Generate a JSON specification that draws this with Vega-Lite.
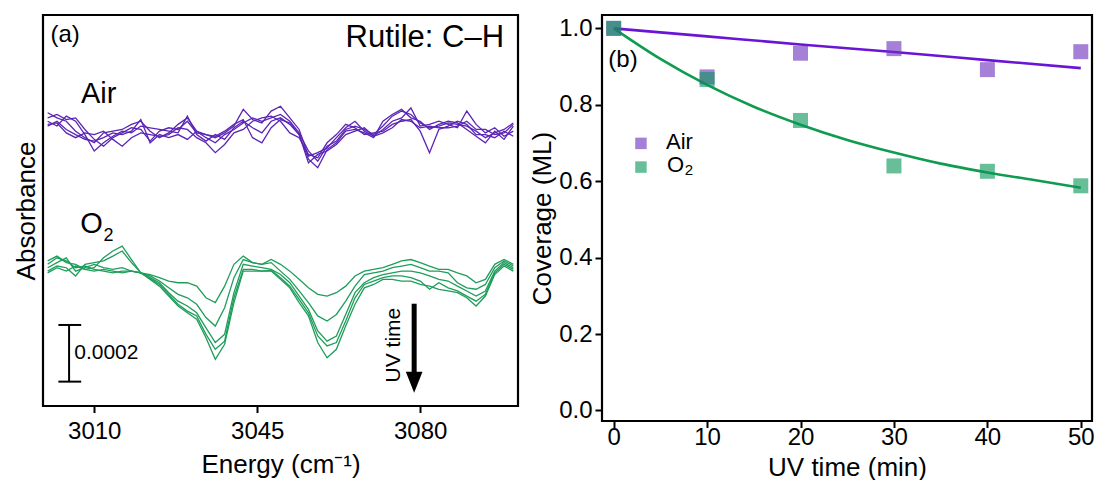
{
  "$schema": "https://vega.github.io/schema/vega-lite/v6.json",
  "padding": {"left": 12, "top": 13, "right": 4, "bottom": 0},
  "config": {
    "font": "Liberation Sans",
    "view": {"stroke": "black", "strokeWidth": 2.2},
    "axis": {"grid": false, "domain": false, "tickColor": "black", "tickWidth": 2, "labelColor": "black", "titleColor": "black", "titleFontWeight": "normal", "labelFlush": false, "labelOverlap": false}
  },
  "spacing": 84,
  "bounds": "flush",
  "resolve": {"scale": {"color": "independent", "stroke": "independent"}, "legend": {"color": "independent", "stroke": "independent"}},
  "hconcat": [
    {
      "width": 475,
      "height": 391,
      "encoding": {
        "x": {"field": "energy", "type": "quantitative", "scale": {"domain": [2999, 3101], "nice": false, "zero": false},
          "axis": {"values": [3010, 3045, 3080], "format": "d", "title": "Energy (cm⁻¹)", "titleFontSize": 26, "labelFontSize": 24, "tickSize": 6.5, "labelPadding": 7, "titlePadding": 8}},
        "y": {"field": "abs", "type": "quantitative", "scale": {"domain": [0, 13.8], "nice": false, "zero": false},
          "axis": {"title": "Absorbance", "titleFontSize": 26, "ticks": false, "labels": false, "titlePadding": 3.5}}
      },
      "layer": [
        {
          "data": {"values": [
            {"energy": 3000, "a1": 10.35, "a2": 10.17, "a3": 10.05, "a4": 9.94, "a5": 9.88, "o1": 5.00, "o2": 5.12, "o3": 4.88, "o4": 4.76, "o5": 4.70},
            {"energy": 3002, "a1": 10.17, "a2": 10.29, "a3": 9.88, "a4": 9.99, "a5": 10.05, "o1": 5.23, "o2": 5.29, "o3": 5.06, "o4": 4.94, "o5": 4.88},
            {"energy": 3004, "a1": 10.05, "a2": 10.11, "a3": 10.23, "a4": 9.64, "a5": 9.76, "o1": 5.12, "o2": 5.06, "o3": 5.23, "o4": 4.88, "o5": 4.76},
            {"energy": 3006, "a1": 9.70, "a2": 10.17, "a3": 10.05, "a4": 9.47, "a5": 9.58, "o1": 4.88, "o2": 5.00, "o3": 4.76, "o4": 4.59, "o5": 4.94},
            {"energy": 3008, "a1": 9.47, "a2": 9.76, "a3": 9.58, "a4": 9.64, "a5": 9.41, "o1": 4.94, "o2": 4.82, "o3": 4.88, "o4": 5.00, "o5": 4.82},
            {"energy": 3010, "a1": 9.29, "a2": 9.41, "a3": 9.00, "a4": 9.58, "a5": 9.35, "o1": 4.82, "o2": 4.76, "o3": 5.00, "o4": 5.06, "o5": 4.88},
            {"energy": 3012, "a1": 9.64, "a2": 9.17, "a3": 9.29, "a4": 9.70, "a5": 9.47, "o1": 4.76, "o2": 4.82, "o3": 4.88, "o4": 5.12, "o5": 5.23},
            {"energy": 3014, "a1": 9.70, "a2": 9.47, "a3": 9.52, "a4": 9.41, "a5": 9.64, "o1": 4.70, "o2": 4.76, "o3": 4.82, "o4": 5.29, "o5": 5.47},
            {"energy": 3016, "a1": 9.76, "a2": 9.64, "a3": 9.70, "a4": 9.17, "a5": 9.58, "o1": 4.76, "o2": 4.70, "o3": 4.88, "o4": 5.47, "o5": 5.64},
            {"energy": 3018, "a1": 9.94, "a2": 9.82, "a3": 9.64, "a4": 9.47, "a5": 9.70, "o1": 4.76, "o2": 4.76, "o3": 4.76, "o4": 5.06, "o5": 5.17},
            {"energy": 3020, "a1": 10.05, "a2": 9.76, "a3": 9.88, "a4": 9.64, "a5": 10.11, "o1": 4.70, "o2": 4.70, "o3": 4.70, "o4": 4.70, "o5": 4.70},
            {"energy": 3022, "a1": 9.70, "a2": 9.35, "a3": 9.82, "a4": 9.58, "a5": 9.29, "o1": 4.64, "o2": 4.59, "o3": 4.53, "o4": 4.50, "o5": 4.47},
            {"energy": 3024, "a1": 9.47, "a2": 9.70, "a3": 9.76, "a4": 9.52, "a5": 9.58, "o1": 4.53, "o2": 4.41, "o3": 4.35, "o4": 4.29, "o5": 4.23},
            {"energy": 3026, "a1": 9.64, "a2": 9.82, "a3": 9.70, "a4": 9.58, "a5": 9.47, "o1": 4.41, "o2": 4.17, "o3": 4.00, "o4": 3.94, "o5": 3.88},
            {"energy": 3028, "a1": 9.94, "a2": 9.76, "a3": 9.64, "a4": 9.82, "a5": 9.58, "o1": 4.35, "o2": 3.94, "o3": 3.70, "o4": 3.59, "o5": 3.53},
            {"energy": 3030, "a1": 10.17, "a2": 10.05, "a3": 10.23, "a4": 9.76, "a5": 9.41, "o1": 4.35, "o2": 3.82, "o3": 3.53, "o4": 3.35, "o5": 3.29},
            {"energy": 3032, "a1": 9.70, "a2": 9.64, "a3": 9.58, "a4": 9.47, "a5": 9.70, "o1": 4.23, "o2": 3.59, "o3": 3.29, "o4": 3.18, "o5": 3.06},
            {"energy": 3034, "a1": 9.47, "a2": 9.58, "a3": 9.35, "a4": 9.29, "a5": 9.58, "o1": 3.82, "o2": 3.12, "o3": 2.76, "o4": 2.53, "o5": 2.41},
            {"energy": 3036, "a1": 9.29, "a2": 9.47, "a3": 9.58, "a4": 8.94, "a5": 9.52, "o1": 3.65, "o2": 2.82, "o3": 2.24, "o4": 2.00, "o5": 1.65},
            {"energy": 3038, "a1": 9.58, "a2": 9.64, "a3": 9.41, "a4": 9.23, "a5": 9.70, "o1": 4.23, "o2": 3.47, "o3": 2.53, "o4": 2.29, "o5": 2.18},
            {"energy": 3040, "a1": 9.76, "a2": 9.88, "a3": 9.82, "a4": 9.64, "a5": 9.94, "o1": 5.00, "o2": 4.53, "o3": 4.00, "o4": 3.82, "o5": 3.65},
            {"energy": 3042, "a1": 9.99, "a2": 10.47, "a3": 10.05, "a4": 9.76, "a5": 10.11, "o1": 5.29, "o2": 5.17, "o3": 5.00, "o4": 4.82, "o5": 4.76},
            {"energy": 3044, "a1": 10.17, "a2": 10.11, "a3": 9.82, "a4": 10.05, "a5": 9.47, "o1": 5.06, "o2": 5.06, "o3": 4.94, "o4": 4.82, "o5": 4.76},
            {"energy": 3046, "a1": 10.05, "a2": 9.99, "a3": 9.64, "a4": 10.17, "a5": 9.29, "o1": 5.00, "o2": 5.00, "o3": 4.88, "o4": 4.76, "o5": 4.76},
            {"energy": 3048, "a1": 10.17, "a2": 10.41, "a3": 10.05, "a4": 10.23, "a5": 9.82, "o1": 5.17, "o2": 5.06, "o3": 4.82, "o4": 4.79, "o5": 4.76},
            {"energy": 3050, "a1": 10.29, "a2": 10.58, "a3": 10.17, "a4": 10.05, "a5": 10.11, "o1": 5.00, "o2": 4.76, "o3": 4.64, "o4": 4.53, "o5": 4.47},
            {"energy": 3052, "a1": 10.05, "a2": 10.17, "a3": 9.94, "a4": 9.64, "a5": 9.99, "o1": 4.76, "o2": 4.47, "o3": 4.35, "o4": 4.23, "o5": 4.17},
            {"energy": 3054, "a1": 9.64, "a2": 9.76, "a3": 9.58, "a4": 9.47, "a5": 9.58, "o1": 4.47, "o2": 4.06, "o3": 3.88, "o4": 3.76, "o5": 3.65},
            {"energy": 3056, "a1": 9.00, "a2": 8.82, "a3": 8.71, "a4": 8.88, "a5": 8.58, "o1": 4.17, "o2": 3.65, "o3": 3.41, "o4": 3.29, "o5": 3.18},
            {"energy": 3058, "a1": 8.64, "a2": 8.94, "a3": 8.41, "a4": 8.76, "a5": 8.88, "o1": 3.94, "o2": 3.18, "o3": 2.65, "o4": 2.47, "o5": 2.24},
            {"energy": 3060, "a1": 9.17, "a2": 9.11, "a3": 9.05, "a4": 9.29, "a5": 9.00, "o1": 3.88, "o2": 3.00, "o3": 2.29, "o4": 2.12, "o5": 1.70},
            {"energy": 3062, "a1": 9.35, "a2": 9.47, "a3": 9.29, "a4": 9.58, "a5": 9.23, "o1": 4.00, "o2": 3.23, "o3": 2.47, "o4": 2.24, "o5": 2.00},
            {"energy": 3064, "a1": 9.76, "a2": 9.82, "a3": 9.70, "a4": 9.94, "a5": 9.58, "o1": 4.23, "o2": 3.70, "o3": 3.23, "o4": 3.00, "o5": 2.82},
            {"energy": 3066, "a1": 9.88, "a2": 10.05, "a3": 9.76, "a4": 9.82, "a5": 9.70, "o1": 4.59, "o2": 4.23, "o3": 4.00, "o4": 3.82, "o5": 3.59},
            {"energy": 3068, "a1": 9.76, "a2": 9.70, "a3": 9.64, "a4": 9.58, "a5": 9.82, "o1": 4.76, "o2": 4.64, "o3": 4.35, "o4": 4.29, "o5": 4.17},
            {"energy": 3070, "a1": 9.58, "a2": 9.52, "a3": 9.47, "a4": 9.64, "a5": 9.52, "o1": 4.82, "o2": 4.70, "o3": 4.53, "o4": 4.41, "o5": 4.29},
            {"energy": 3072, "a1": 9.88, "a2": 9.76, "a3": 10.05, "a4": 9.70, "a5": 9.64, "o1": 4.88, "o2": 4.76, "o3": 4.64, "o4": 4.53, "o5": 4.47},
            {"energy": 3074, "a1": 10.23, "a2": 10.05, "a3": 10.29, "a4": 9.94, "a5": 9.82, "o1": 5.00, "o2": 4.88, "o3": 4.70, "o4": 4.59, "o5": 4.47},
            {"energy": 3076, "a1": 10.41, "a2": 10.17, "a3": 10.47, "a4": 10.05, "a5": 10.11, "o1": 5.12, "o2": 4.94, "o3": 4.76, "o4": 4.59, "o5": 4.41},
            {"energy": 3078, "a1": 10.29, "a2": 10.52, "a3": 10.17, "a4": 10.11, "a5": 10.05, "o1": 5.17, "o2": 5.00, "o3": 4.76, "o4": 4.53, "o5": 4.41},
            {"energy": 3080, "a1": 9.99, "a2": 9.88, "a3": 10.05, "a4": 9.70, "a5": 9.82, "o1": 5.06, "o2": 4.88, "o3": 4.70, "o4": 4.41, "o5": 4.29},
            {"energy": 3082, "a1": 9.82, "a2": 9.94, "a3": 9.76, "a4": 8.94, "a5": 9.88, "o1": 4.94, "o2": 4.76, "o3": 4.59, "o4": 4.12, "o5": 4.23},
            {"energy": 3084, "a1": 9.88, "a2": 10.05, "a3": 9.94, "a4": 9.76, "a5": 9.82, "o1": 4.82, "o2": 4.76, "o3": 4.47, "o4": 4.35, "o5": 4.12},
            {"energy": 3086, "a1": 9.99, "a2": 9.94, "a3": 10.05, "a4": 9.88, "a5": 9.82, "o1": 4.82, "o2": 4.70, "o3": 4.41, "o4": 4.17, "o5": 4.06},
            {"energy": 3088, "a1": 9.94, "a2": 9.82, "a3": 9.99, "a4": 10.05, "a5": 9.88, "o1": 4.70, "o2": 4.35, "o3": 4.23, "o4": 4.06, "o5": 4.00},
            {"energy": 3090, "a1": 9.88, "a2": 10.41, "a3": 9.76, "a4": 9.94, "a5": 10.05, "o1": 4.59, "o2": 4.17, "o3": 4.06, "o4": 3.88, "o5": 3.82},
            {"energy": 3092, "a1": 9.70, "a2": 9.94, "a3": 9.52, "a4": 9.58, "a5": 9.76, "o1": 4.35, "o2": 4.12, "o3": 3.88, "o4": 3.70, "o5": 3.53},
            {"energy": 3094, "a1": 9.47, "a2": 9.64, "a3": 9.29, "a4": 9.58, "a5": 9.76, "o1": 4.47, "o2": 4.29, "o3": 4.06, "o4": 3.94, "o5": 3.88},
            {"energy": 3096, "a1": 9.64, "a2": 9.82, "a3": 9.70, "a4": 9.47, "a5": 9.58, "o1": 5.00, "o2": 4.88, "o3": 4.76, "o4": 4.70, "o5": 4.64},
            {"energy": 3098, "a1": 9.76, "a2": 9.52, "a3": 9.41, "a4": 9.70, "a5": 9.64, "o1": 5.17, "o2": 5.12, "o3": 5.06, "o4": 5.00, "o5": 4.94},
            {"energy": 3100, "a1": 9.99, "a2": 9.70, "a3": 9.88, "a4": 9.52, "a5": 9.94, "o1": 5.00, "o2": 4.94, "o3": 4.88, "o4": 4.82, "o5": 4.76}
          ]},
          "transform": [{"fold": ["a1", "a2", "a3", "a4", "a5", "o1", "o2", "o3", "o4", "o5"], "as": ["trace", "abs"]}],
          "mark": {"type": "line", "strokeWidth": 1.3},
          "encoding": {
            "color": {"field": "trace", "type": "nominal", "legend": null,
              "scale": {"domain": ["a1", "a2", "a3", "a4", "a5", "o1", "o2", "o3", "o4", "o5"],
                "range": ["#5b25b5", "#5b25b5", "#5b25b5", "#5b25b5", "#5b25b5", "#1f9d5b", "#1f9d5b", "#1f9d5b", "#1f9d5b", "#1f9d5b"]}}
          }
        },
        {
          "data": {"values": [{"energy": 3004.6, "abs": 0.86, "abs2": 2.86}]},
          "mark": {"type": "rule", "color": "black", "strokeWidth": 2},
          "encoding": {"y2": {"field": "abs2"}}
        },
        {
          "data": {"values": [{"energy": 3002.3, "energy2": 3007.2, "abs": 0.86}, {"energy": 3002.3, "energy2": 3007.2, "abs": 2.86}]},
          "mark": {"type": "rule", "color": "black", "strokeWidth": 2},
          "encoding": {"x2": {"field": "energy2"}}
        },
        {
          "data": {"values": [{"energy": 3005.7, "abs": 1.88, "label": "0.0002"}]},
          "mark": {"type": "text", "align": "left", "baseline": "middle", "fontSize": 21, "color": "black"},
          "encoding": {"text": {"field": "label"}}
        },
        {
          "data": {"values": [{"energy": 3078.7, "abs": 3.61, "abs2": 1.15}]},
          "mark": {"type": "rule", "color": "black", "strokeWidth": 5, "strokeCap": "butt"},
          "encoding": {"y2": {"field": "abs2"}}
        },
        {
          "data": {"values": [{"energy": 3078.7, "abs": 0.84}]},
          "mark": {"type": "point", "shape": "M-1,-1.25L1,-1.25L0,1.25Z", "size": 279, "filled": true, "color": "black", "opacity": 1}
        },
        {
          "data": {"values": [{"energy": 3074.4, "abs": 2.15, "label": "UV time"}]},
          "mark": {"type": "text", "align": "center", "baseline": "middle", "angle": 270, "fontSize": 21, "color": "black"},
          "encoding": {"text": {"field": "label"}}
        },
        {
          "data": {"values": [{"energy": 3000.6, "abs": 13.09, "label": "(a)"}]},
          "mark": {"type": "text", "align": "left", "baseline": "middle", "fontSize": 24, "color": "black"},
          "encoding": {"text": {"field": "label"}}
        },
        {
          "data": {"values": [{"energy": 3098.0, "abs": 12.66, "label": "Rutile: C–H"}]},
          "mark": {"type": "text", "align": "right", "baseline": "alphabetic", "fontSize": 31, "color": "black"},
          "encoding": {"text": {"field": "label"}}
        },
        {
          "data": {"values": [{"energy": 3007.15, "abs": 10.68, "label": "Air"}, {"energy": 3007.0, "abs": 6.11, "label": "O"}]},
          "mark": {"type": "text", "align": "left", "baseline": "alphabetic", "fontSize": 29, "color": "black"},
          "encoding": {"text": {"field": "label"}}
        },
        {
          "data": {"values": [{"energy": 3012.0, "abs": 5.82, "label": "2"}]},
          "mark": {"type": "text", "align": "left", "baseline": "alphabetic", "fontSize": 18, "color": "black"},
          "encoding": {"text": {"field": "label"}}
        }
      ]
    },
    {
      "width": 490,
      "height": 406,
      "encoding": {
        "x": {"field": "time", "type": "quantitative", "scale": {"domain": [-1.25, 51.2], "nice": false, "zero": false},
          "axis": {"values": [0, 10, 20, 30, 40, 50], "format": "d", "title": "UV time (min)", "titleFontSize": 26, "labelFontSize": 24, "tickSize": 6.5, "labelPadding": -2, "titlePadding": 5}},
        "y": {"field": "coverage", "type": "quantitative", "scale": {"domain": [-0.0275, 1.035], "nice": false, "zero": false},
          "axis": {"values": [0, 0.2, 0.4, 0.6, 0.8, 1.0], "format": ".1f", "title": "Coverage (ML)", "titleFontSize": 26, "labelFontSize": 24, "tickSize": 7, "labelPadding": 3, "titlePadding": 3}}
      },
      "layer": [
        {
          "data": {"values": [
            {"series": "Air", "time": 0, "coverage": 1.0},
            {"series": "Air", "time": 10, "coverage": 0.979},
            {"series": "Air", "time": 20, "coverage": 0.958},
            {"series": "Air", "time": 30, "coverage": 0.938},
            {"series": "Air", "time": 40, "coverage": 0.917},
            {"series": "Air", "time": 50, "coverage": 0.896},
            {"series": "O2", "time": 0, "coverage": 1.0},
            {"series": "O2", "time": 5, "coverage": 0.920},
            {"series": "O2", "time": 10, "coverage": 0.852},
            {"series": "O2", "time": 15, "coverage": 0.795},
            {"series": "O2", "time": 20, "coverage": 0.748},
            {"series": "O2", "time": 25, "coverage": 0.708},
            {"series": "O2", "time": 30, "coverage": 0.675},
            {"series": "O2", "time": 35, "coverage": 0.646},
            {"series": "O2", "time": 40, "coverage": 0.623},
            {"series": "O2", "time": 45, "coverage": 0.603},
            {"series": "O2", "time": 50, "coverage": 0.583}
          ]},
          "mark": {"type": "line", "strokeWidth": 2.6, "interpolate": "monotone"},
          "encoding": {
            "stroke": {"field": "series", "type": "nominal", "legend": null, "scale": {"domain": ["Air", "O2"], "range": ["#6a14d6", "#0f9b50"]}}
          }
        },
        {
          "data": {"values": [
            {"series": "Air", "time": 0, "coverage": 1.0},
            {"series": "Air", "time": 10, "coverage": 0.873},
            {"series": "Air", "time": 20, "coverage": 0.935},
            {"series": "Air", "time": 30, "coverage": 0.947},
            {"series": "Air", "time": 40, "coverage": 0.892},
            {"series": "Air", "time": 50, "coverage": 0.939},
            {"series": "O2", "time": 0, "coverage": 1.0},
            {"series": "O2", "time": 10, "coverage": 0.866},
            {"series": "O2", "time": 20, "coverage": 0.759},
            {"series": "O2", "time": 30, "coverage": 0.640},
            {"series": "O2", "time": 40, "coverage": 0.626},
            {"series": "O2", "time": 50, "coverage": 0.588}
          ]},
          "mark": {"type": "point", "shape": "square", "filled": true, "size": 225, "opacity": 1, "fillOpacity": 0.62},
          "encoding": {
            "color": {"field": "series", "type": "nominal", "legend": null,
              "scale": {"domain": ["Air", "O2"], "range": ["#6e32be", "#0a965a"]}}
          }
        },
        {
          "data": {"values": [
            {"series": "Air", "time": 2.92, "coverage": 0.699},
            {"series": "O2", "time": 2.92, "coverage": 0.637}
          ]},
          "mark": {"type": "point", "shape": "square", "filled": true, "size": 132, "opacity": 1, "fillOpacity": 0.62},
          "encoding": {
            "color": {"field": "series", "type": "nominal", "legend": null}
          }
        },
        {
          "data": {"values": [
            {"time": 5.6, "coverage": 0.685, "label": "Air"},
            {"time": 5.7, "coverage": 0.624, "label": "O"}
          ]},
          "mark": {"type": "text", "align": "left", "baseline": "alphabetic", "fontSize": 22, "color": "black"},
          "encoding": {"text": {"field": "label"}}
        },
        {
          "data": {"values": [{"time": 7.6, "coverage": 0.617, "label": "2"}]},
          "mark": {"type": "text", "align": "left", "baseline": "alphabetic", "fontSize": 15, "color": "black"},
          "encoding": {"text": {"field": "label"}}
        },
        {
          "data": {"values": [{"time": -0.57, "coverage": 0.9175, "label": "(b)"}]},
          "mark": {"type": "text", "align": "left", "baseline": "middle", "fontSize": 24, "color": "black"},
          "encoding": {"text": {"field": "label"}}
        }
      ]
    }
  ]
}
